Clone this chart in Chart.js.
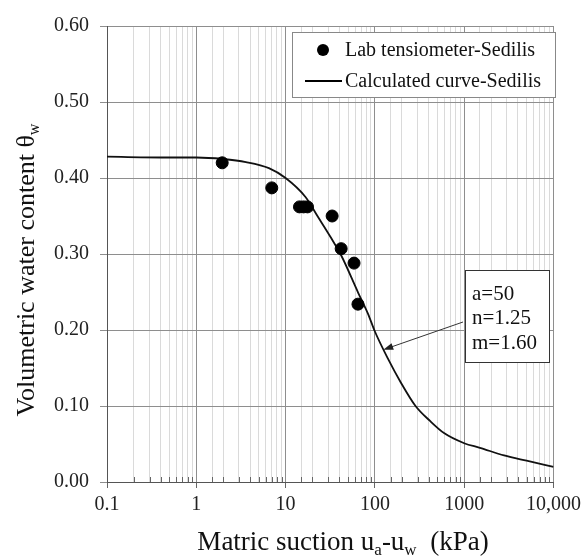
<!DOCTYPE html>
<html>
<head>
<meta charset="utf-8">
<script src="https://cdn.jsdelivr.net/npm/chart.js@4.4.1/dist/chart.umd.min.js"></script>
<style>
  body { margin: 0; background: #fff; }
  canvas { display: block; }
</style>
</head>
<body>
<canvas id="swccChart" width="586" height="559"></canvas>
<script>
// Lab tensiometer readings (suction kPa, volumetric water content)
const labSuction = [1.95, 7.0, 14.3, 15.9, 17.6, 33.2, 41.9, 58.4, 64.6];
const labTheta = [0.420, 0.387, 0.362, 0.362, 0.362, 0.350, 0.307, 0.288, 0.234];

// Calculated curve
const curveSuction = [0.1, 0.5, 1, 2, 3.6, 6.5, 10, 16.7, 23, 32, 42, 65, 84, 100, 139, 195, 285, 417, 600, 1000, 1500, 2800, 5000, 10000];
const curveTheta = [0.428, 0.427, 0.427, 0.425, 0.421, 0.413, 0.400, 0.375, 0.349, 0.322, 0.298, 0.249, 0.221, 0.198, 0.163, 0.131, 0.100, 0.080, 0.064, 0.051, 0.045, 0.035, 0.028, 0.020];

// Axis labels
const xTickValues = [0.1, 1, 10, 100, 1000, 10000];
const xTickLabels = ['0.1', '1', '10', '100', '1000', '10,000'];
const fitParams = ['a=50', 'n=1.25', 'm=1.60'];

const serif = '"Liberation Serif", "Times New Roman", serif';

function isMajor(v) {
    const l = Math.log10(v);
    return Math.abs(l - Math.round(l)) < 1e-6;
}

// Draws legend, parameter box, arrow, axis titles and minor ticks
const extras = {
    id: 'extras',
    afterDraw(chart) {
        const ctx = chart.ctx;
        const area = chart.chartArea;
        const xs = chart.scales.x;
        const ys = chart.scales.y;
        ctx.save();

        // minor tick marks on the bottom axis, pointing in
        ctx.strokeStyle = '#666';
        ctx.lineWidth = 1;
        xs.ticks.forEach(t => {
            if (!isMajor(t.value)) {
                const px = Math.round(xs.getPixelForValue(t.value)) + 0.5;
                ctx.beginPath();
                ctx.moveTo(px, area.bottom);
                ctx.lineTo(px, area.bottom - 5);
                ctx.stroke();
            }
        });

        // legend
        ctx.fillStyle = '#fff';
        ctx.fillRect(292, 32, 263, 65);
        ctx.strokeStyle = '#888';
        ctx.strokeRect(292.5, 32.5, 263, 65);
        ctx.fillStyle = '#000';
        ctx.beginPath();
        ctx.arc(323, 50, 6, 0, Math.PI * 2);
        ctx.fill();
        ctx.strokeStyle = '#000';
        ctx.lineWidth = 1.8;
        ctx.beginPath();
        ctx.moveTo(305, 81);
        ctx.lineTo(342, 81);
        ctx.stroke();
        ctx.font = '20px ' + serif;
        ctx.textBaseline = 'middle';
        ctx.textAlign = 'left';
        ctx.fillStyle = '#111';
        ctx.fillText(chart.data.datasets[0].label, 345, 51);
        ctx.fillText(chart.data.datasets[1].label, 345, 82);

        // arrow from parameter box to the curve
        const tipX = xs.getPixelForValue(124);
        const tipY = ys.getPixelForValue(0.174);
        const fromX = 463, fromY = 322;
        const ang = Math.atan2(tipY - fromY, tipX - fromX);
        ctx.strokeStyle = '#333';
        ctx.lineWidth = 1;
        ctx.beginPath();
        ctx.moveTo(fromX, fromY);
        ctx.lineTo(tipX - 8 * Math.cos(ang), tipY - 8 * Math.sin(ang));
        ctx.stroke();
        ctx.fillStyle = '#222';
        ctx.beginPath();
        ctx.moveTo(tipX, tipY);
        ctx.lineTo(tipX - 10 * Math.cos(ang) + 3.5 * Math.sin(ang), tipY - 10 * Math.sin(ang) - 3.5 * Math.cos(ang));
        ctx.lineTo(tipX - 10 * Math.cos(ang) - 3.5 * Math.sin(ang), tipY - 10 * Math.sin(ang) + 3.5 * Math.cos(ang));
        ctx.closePath();
        ctx.fill();

        // parameter box
        ctx.fillStyle = '#fff';
        ctx.fillRect(465, 270, 84, 92);
        ctx.strokeStyle = '#333';
        ctx.strokeRect(465.5, 270.5, 84, 92);
        ctx.fillStyle = '#111';
        ctx.font = '21px ' + serif;
        fitParams.forEach((s, i) => ctx.fillText(s, 472, 294 + i * 24.5));

        // x axis title with subscripts
        const big = '27px ' + serif, small = '17px ' + serif;
        const parts = [['Matric suction u', big, 0], ['a', small, 5], ['-u', big, 0], ['w', small, 5], ['  (kPa)', big, 0]];
        ctx.textBaseline = 'alphabetic';
        let total = 0;
        parts.forEach(p => { ctx.font = p[1]; total += ctx.measureText(p[0]).width; });
        let x = 343 - total / 2;
        parts.forEach(p => {
            ctx.font = p[1];
            ctx.fillText(p[0], x, 550 + p[2]);
            x += ctx.measureText(p[0]).width;
        });

        // y axis title with subscript
        const ybig = '26px ' + serif, ysmall = '16px ' + serif;
        ctx.translate(15, 270);
        ctx.rotate(-Math.PI / 2);
        ctx.font = ybig;
        const main = 'Volumetric water content \u03b8';
        const mw = ctx.measureText(main).width;
        ctx.font = ysmall;
        const sw = ctx.measureText('w').width;
        const start = -(mw + sw) / 2;
        ctx.font = ybig;
        ctx.fillText(main, start, 19);
        ctx.font = ysmall;
        ctx.fillText('w', start + mw, 24);

        ctx.restore();
    }
};

const labPoints = labSuction.map((s, i) => ({ x: s, y: labTheta[i] }));
const curvePoints = curveSuction.map((s, i) => ({ x: s, y: curveTheta[i] }));

const ctx = document.getElementById('swccChart').getContext('2d');
new Chart(ctx, {
    type: 'scatter',
    data: {
        datasets: [
            {
                label: 'Lab tensiometer-Sedilis',
                data: labPoints,
                backgroundColor: '#000',
                borderColor: '#000',
                pointRadius: 6,
                pointHoverRadius: 6
            },
            {
                label: 'Calculated curve-Sedilis',
                data: curvePoints,
                showLine: true,
                borderColor: '#111',
                borderWidth: 1.8,
                pointRadius: 0,
                cubicInterpolationMode: 'monotone',
                fill: false
            }
        ]
    },
    options: {
        responsive: false,
        animation: false,
        layout: { padding: { top: 26, right: 29, left: 0, bottom: 0 } },
        plugins: {
            legend: { display: false },
            tooltip: { enabled: false }
        },
        scales: {
            x: {
                type: 'logarithmic',
                min: 0.1,
                max: 10000,
                afterFit(scale) { scale.height = 77; },
                border: { color: '#555' },
                grid: {
                    color: c => isMajor(c.tick.value) ? '#8e8e8e' : '#dadada',
                    tickColor: c => isMajor(c.tick.value) ? '#666' : 'rgba(0,0,0,0)',
                    tickLength: 6
                },
                ticks: {
                    autoSkip: false,
                    maxRotation: 0,
                    padding: 5,
                    color: '#222',
                    font: { family: serif, size: 20 },
                    callback(v) {
                        const i = xTickValues.findIndex(t => Math.abs(t - v) < 1e-9 * Math.max(1, t));
                        return i >= 0 ? xTickLabels[i] : '';
                    }
                }
            },
            y: {
                min: 0,
                max: 0.6,
                afterFit(scale) { scale.width = 107; },
                border: { color: '#555' },
                grid: { color: '#8e8e8e', tickColor: '#8e8e8e', tickLength: 7 },
                ticks: {
                    stepSize: 0.1,
                    padding: 11,
                    color: '#222',
                    font: { family: serif, size: 20 },
                    callback: v => v.toFixed(2)
                }
            }
        }
    },
    plugins: [extras]
});
</script>
</body>
</html>
